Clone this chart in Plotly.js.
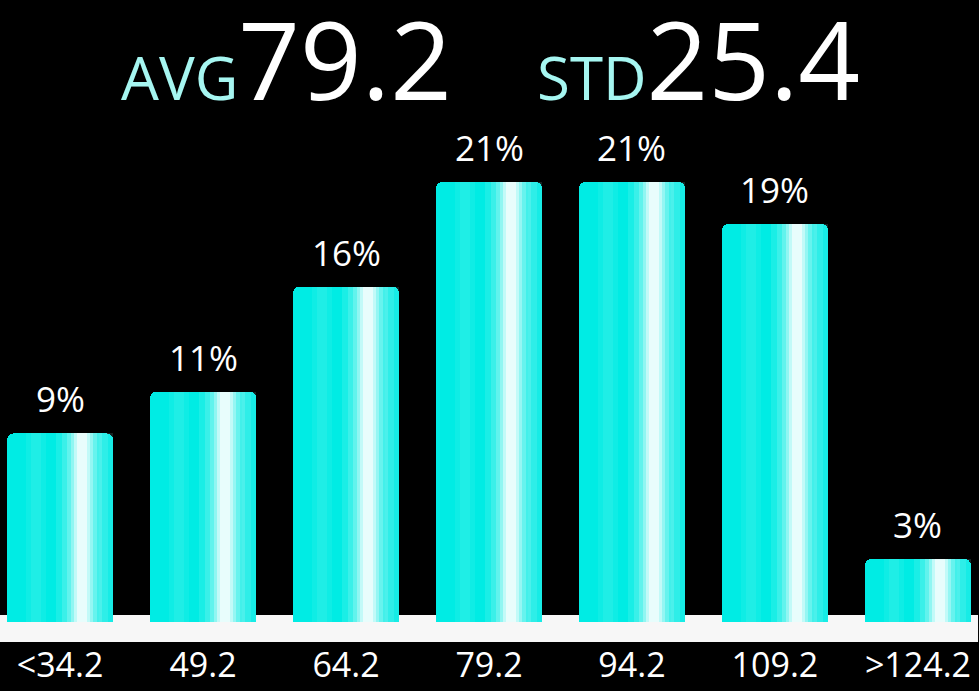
<!DOCTYPE html>
<html>
<head>
<meta charset="utf-8">
<script src="https://cdn.plot.ly/plotly-3.0.1.min.js"></script>
<style>
  html,body{margin:0;padding:0;background:#000;}
  #chart{width:979px;height:691px;}
</style>
</head>
<body>
<div id="chart"></div>
<script>
// score distribution, share of group per bin (%)
const bins   = ["&lt;34.2","49.2","64.2","79.2","94.2","109.2","&gt;124.2"];
const shares = [9, 11, 16, 21, 21, 19, 3];
const avgVal = "79.2";
const stdVal = "25.4";

const idx = bins.map((_, i) => i);
const FONT = "'Open Sans','Noto Sans',sans-serif";
const CYAN = "#00ece4";
const BAR_W = 0.74;
const HL = 0.154;    // highlight stripe sits right of bar centre

// a bar layer drawn over the same data, used for the glossy stripe
function layer(w, centre, color, op, radius){
  return {type:"bar", x:idx, y:shares, width:w, offset:centre - w/2,
    marker:{color:color, opacity:op, line:{width:0}, cornerradius:radius||0},
    hoverinfo:"skip", showlegend:false};
}

const traces = [layer(BAR_W, 0, CYAN, 1, 6)];
// soft light on the right edge and a faint streak on the left
[[0.16,0.08],[0.10,0.08]].forEach(([w,o]) => traces.push(layer(w, BAR_W/2 - w/2, "#9ff8f4", o)));
[[0.14,0.06],[0.07,0.07]].forEach(([w,o]) => traces.push(layer(w, -0.17, "#ffffff", o)));
// main white highlight, built up in soft steps
[[0.36,0.10],[0.28,0.14],[0.21,0.20],[0.15,0.30],[0.11,0.45],[0.07,0.62]]
  .forEach(([w,o]) => traces.push(layer(w, HL, "#ffffff", o)));

const labels = shares.map((v, i) => ({
  x:i, y:v, xref:"x", yref:"y", text:v + "%", showarrow:false,
  yanchor:"bottom", yshift:9, font:{family:FONT, size:35, color:"#ffffff"}
}));

// big headline numbers with small cyan tag; box height kept tight to the glyphs
const head = (tag, num, x) => ({
  xref:"paper", yref:"paper", x:x, y:1.14, xanchor:"left", yanchor:"middle",
  height:100, valign:"middle", showarrow:false,
  text:`<span style="font-size:60px;color:#a6f6f1">${tag}</span>${num}`,
  font:{family:FONT, size:108, color:"#ffffff"}
});

const pxPerPct = 20.952;
const layout = {
  width:979, height:691,
  paper_bgcolor:"#000", plot_bgcolor:"#000",
  margin:{l:0, r:0, t:130, b:49},
  barmode:"overlay", bargap:0,
  showlegend:false,
  xaxis:{range:[-0.42, 6.427], tickvals:idx, ticktext:bins, showgrid:false,
    zeroline:false, showline:false, ticks:"", fixedrange:true,
    tickfont:{family:FONT, size:34, color:"#ffffff"}},
  yaxis:{range:[-20/pxPerPct, 492/pxPerPct], visible:false, fixedrange:true},
  shapes:[{type:"rect", xref:"paper", yref:"y", x0:0, x1:0.999,
    y0:-20/pxPerPct, y1:7/pxPerPct, fillcolor:"#f7f7f7", line:{width:0}, layer:"below"}],
  annotations:labels.concat([head("AVG", avgVal, 0.122), head("STD", stdVal, 0.546)])
};

Plotly.newPlot("chart", traces, layout, {displayModeBar:false, staticPlot:true});
</script>
</body>
</html>
